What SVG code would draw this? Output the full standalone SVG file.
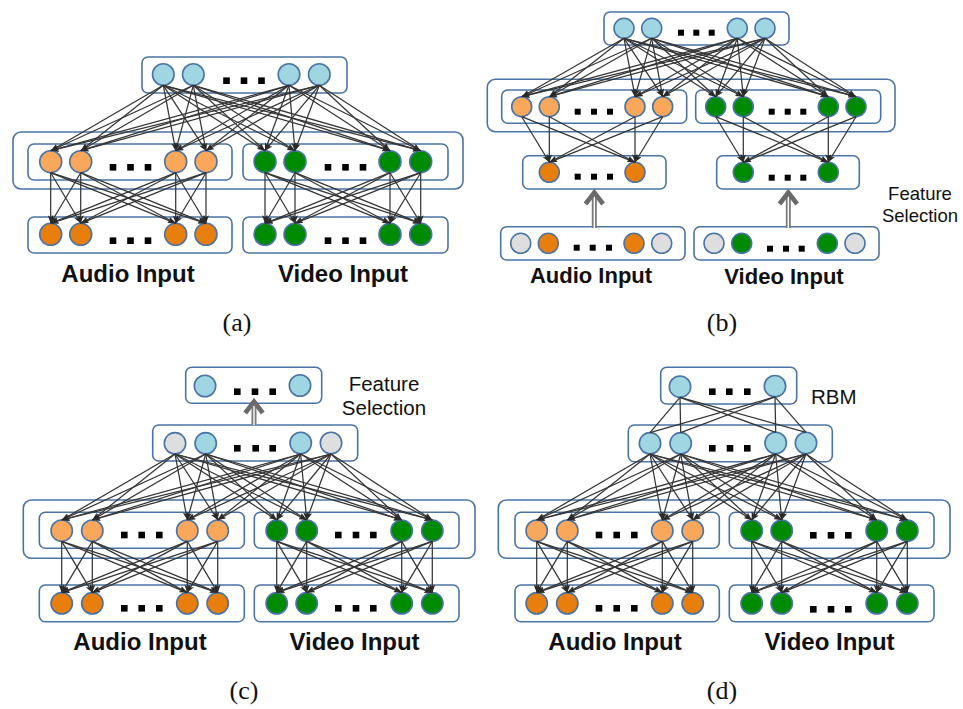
<svg xmlns="http://www.w3.org/2000/svg" width="963" height="709" viewBox="0 0 963 709">
  <style>
    .box { fill: none; stroke: #4a74a5; stroke-width: 1.6; }
    circle { stroke: #4a74a5; stroke-width: 1.6; }
    .lb { fill: #a0d5e2; }
    .lo { fill: #f9a75a; }
    .do { fill: #e87e0b; }
    .g { fill: #008a00; }
    .gy { fill: #dedede; }
    .sq { fill: #000; }
    .e { stroke: #353535; stroke-width: 1.25; marker-end: url(#tip); }
    .u { stroke: #353535; stroke-width: 1.25; }
    .lbl { font-family: "Liberation Sans", Arial, sans-serif; font-weight: bold; fill: #111; text-anchor: middle; }
    .note { font-family: "Liberation Sans", Arial, sans-serif; fill: #111; text-anchor: middle; }
    .cap { font-family: "Liberation Serif", "DejaVu Serif", serif; font-size: 26px; fill: #111; text-anchor: middle; }
    .fs-shaft { stroke: #7a7a7a; stroke-width: 5; }
    .fs-core { stroke: #fff; stroke-width: 1.4; }
    .fs-head { fill: none; stroke: #6a6a6a; stroke-width: 4.6; stroke-linejoin: miter; }
  </style>
  <defs>
    <marker id="tip" viewBox="0 0 8 6" refX="8" refY="3" markerWidth="8" markerHeight="6" markerUnits="userSpaceOnUse" orient="auto">
      <path d="M0,0 L8,3 L0,6 L2,3 z" fill="#2a2a2a"/>
    </marker>
  </defs>
  <rect width="963" height="709" fill="#fff"/>

  <!-- ===================== (a) ===================== -->
  <g id="a-top">
    <rect class="box" x="142" y="57" width="205" height="36" rx="6"/>
    <circle class="lb" cx="163.3" cy="74.5" r="10.8"/>
    <circle class="lb" cx="193.3" cy="74.5" r="10.8"/>
    <circle class="lb" cx="289" cy="74.5" r="10.8"/>
    <circle class="lb" cx="319.3" cy="74.5" r="10.8"/>
    <rect class="sq" x="223.2" y="77.4" width="6.6" height="6.6"/>
    <rect class="sq" x="240.7" y="77.4" width="6.6" height="6.6"/>
    <rect class="sq" x="258.2" y="77.4" width="6.6" height="6.6"/>
  </g>
  <g id="a-shared">
    <rect class="box" x="13" y="132" width="450" height="57" rx="8"/>
  </g>
  <g id="a-audio-hidden">
    <rect class="box" x="28" y="144" width="204" height="36" rx="6"/>
    <circle class="lo" cx="50.7" cy="161.7" r="11"/>
    <circle class="lo" cx="80.7" cy="161.7" r="11"/>
    <circle class="lo" cx="175.7" cy="161.7" r="11"/>
    <circle class="lo" cx="206" cy="161.7" r="11"/>
    <rect class="sq" x="109.7" y="164" width="6.6" height="6.6"/>
    <rect class="sq" x="127.2" y="164" width="6.6" height="6.6"/>
    <rect class="sq" x="144.7" y="164" width="6.6" height="6.6"/>
  </g>
  <g id="a-video-hidden">
    <rect class="box" x="243" y="144" width="205" height="36" rx="6"/>
    <circle class="g" cx="265" cy="161.7" r="11"/>
    <circle class="g" cx="295" cy="161.7" r="11"/>
    <circle class="g" cx="390" cy="161.7" r="11"/>
    <circle class="g" cx="420.7" cy="161.7" r="11"/>
    <rect class="sq" x="324.7" y="164" width="6.6" height="6.6"/>
    <rect class="sq" x="342.2" y="164" width="6.6" height="6.6"/>
    <rect class="sq" x="359.7" y="164" width="6.6" height="6.6"/>
  </g>
  <g id="a-audio-input">
    <rect class="box" x="28" y="217" width="204" height="36" rx="6"/>
    <circle class="do" cx="50.7" cy="234.3" r="11"/>
    <circle class="do" cx="80.7" cy="234.3" r="11"/>
    <circle class="do" cx="175.7" cy="234.3" r="11"/>
    <circle class="do" cx="206" cy="234.3" r="11"/>
    <rect class="sq" x="109.7" y="237.4" width="6.6" height="6.6"/>
    <rect class="sq" x="127.2" y="237.4" width="6.6" height="6.6"/>
    <rect class="sq" x="144.7" y="237.4" width="6.6" height="6.6"/>
    <text class="lbl" x="128" y="282" font-size="24">Audio Input</text>
  </g>
  <g id="a-video-input">
    <rect class="box" x="243" y="217" width="205" height="36" rx="6"/>
    <circle class="g" cx="265" cy="234.3" r="11"/>
    <circle class="g" cx="295" cy="234.3" r="11"/>
    <circle class="g" cx="390" cy="234.3" r="11"/>
    <circle class="g" cx="420.7" cy="234.3" r="11"/>
    <rect class="sq" x="324.7" y="237.4" width="6.6" height="6.6"/>
    <rect class="sq" x="342.2" y="237.4" width="6.6" height="6.6"/>
    <rect class="sq" x="359.7" y="237.4" width="6.6" height="6.6"/>
    <text class="lbl" x="343" y="282" font-size="24">Video Input</text>
  </g>
  <text class="cap" x="237" y="331">(a)</text>

  <g id="a-connectors">
    <!-- shared layer to modality layers -->
    <line class="e" x1="163.3" y1="85.3" x2="50.7" y2="150.7"/>
    <line class="e" x1="163.3" y1="85.3" x2="80.7" y2="150.7"/>
    <line class="e" x1="163.3" y1="85.3" x2="175.7" y2="150.7"/>
    <line class="e" x1="163.3" y1="85.3" x2="206" y2="150.7"/>
    <line class="e" x1="163.3" y1="85.3" x2="265" y2="150.7"/>
    <line class="e" x1="163.3" y1="85.3" x2="295" y2="150.7"/>
    <line class="e" x1="163.3" y1="85.3" x2="390" y2="150.7"/>
    <line class="e" x1="163.3" y1="85.3" x2="420.7" y2="150.7"/>
    <line class="e" x1="193.3" y1="85.3" x2="50.7" y2="150.7"/>
    <line class="e" x1="193.3" y1="85.3" x2="80.7" y2="150.7"/>
    <line class="e" x1="193.3" y1="85.3" x2="175.7" y2="150.7"/>
    <line class="e" x1="193.3" y1="85.3" x2="206" y2="150.7"/>
    <line class="e" x1="193.3" y1="85.3" x2="265" y2="150.7"/>
    <line class="e" x1="193.3" y1="85.3" x2="295" y2="150.7"/>
    <line class="e" x1="193.3" y1="85.3" x2="390" y2="150.7"/>
    <line class="e" x1="193.3" y1="85.3" x2="420.7" y2="150.7"/>
    <line class="e" x1="289" y1="85.3" x2="50.7" y2="150.7"/>
    <line class="e" x1="289" y1="85.3" x2="80.7" y2="150.7"/>
    <line class="e" x1="289" y1="85.3" x2="175.7" y2="150.7"/>
    <line class="e" x1="289" y1="85.3" x2="206" y2="150.7"/>
    <line class="e" x1="289" y1="85.3" x2="265" y2="150.7"/>
    <line class="e" x1="289" y1="85.3" x2="295" y2="150.7"/>
    <line class="e" x1="289" y1="85.3" x2="390" y2="150.7"/>
    <line class="e" x1="289" y1="85.3" x2="420.7" y2="150.7"/>
    <line class="e" x1="319.3" y1="85.3" x2="50.7" y2="150.7"/>
    <line class="e" x1="319.3" y1="85.3" x2="80.7" y2="150.7"/>
    <line class="e" x1="319.3" y1="85.3" x2="175.7" y2="150.7"/>
    <line class="e" x1="319.3" y1="85.3" x2="206" y2="150.7"/>
    <line class="e" x1="319.3" y1="85.3" x2="265" y2="150.7"/>
    <line class="e" x1="319.3" y1="85.3" x2="295" y2="150.7"/>
    <line class="e" x1="319.3" y1="85.3" x2="390" y2="150.7"/>
    <line class="e" x1="319.3" y1="85.3" x2="420.7" y2="150.7"/>
    <!-- audio hidden to audio input -->
    <line class="e" x1="50.7" y1="172.7" x2="50.7" y2="223.3"/>
    <line class="e" x1="50.7" y1="172.7" x2="80.7" y2="223.3"/>
    <line class="e" x1="50.7" y1="172.7" x2="175.7" y2="223.3"/>
    <line class="e" x1="50.7" y1="172.7" x2="206" y2="223.3"/>
    <line class="e" x1="80.7" y1="172.7" x2="50.7" y2="223.3"/>
    <line class="e" x1="80.7" y1="172.7" x2="80.7" y2="223.3"/>
    <line class="e" x1="80.7" y1="172.7" x2="175.7" y2="223.3"/>
    <line class="e" x1="80.7" y1="172.7" x2="206" y2="223.3"/>
    <line class="e" x1="175.7" y1="172.7" x2="50.7" y2="223.3"/>
    <line class="e" x1="175.7" y1="172.7" x2="80.7" y2="223.3"/>
    <line class="e" x1="175.7" y1="172.7" x2="175.7" y2="223.3"/>
    <line class="e" x1="175.7" y1="172.7" x2="206" y2="223.3"/>
    <line class="e" x1="206" y1="172.7" x2="50.7" y2="223.3"/>
    <line class="e" x1="206" y1="172.7" x2="80.7" y2="223.3"/>
    <line class="e" x1="206" y1="172.7" x2="175.7" y2="223.3"/>
    <line class="e" x1="206" y1="172.7" x2="206" y2="223.3"/>
    <!-- video hidden to video input -->
    <line class="e" x1="265" y1="172.7" x2="265" y2="223.3"/>
    <line class="e" x1="265" y1="172.7" x2="295" y2="223.3"/>
    <line class="e" x1="265" y1="172.7" x2="390" y2="223.3"/>
    <line class="e" x1="265" y1="172.7" x2="420.7" y2="223.3"/>
    <line class="e" x1="295" y1="172.7" x2="265" y2="223.3"/>
    <line class="e" x1="295" y1="172.7" x2="295" y2="223.3"/>
    <line class="e" x1="295" y1="172.7" x2="390" y2="223.3"/>
    <line class="e" x1="295" y1="172.7" x2="420.7" y2="223.3"/>
    <line class="e" x1="390" y1="172.7" x2="265" y2="223.3"/>
    <line class="e" x1="390" y1="172.7" x2="295" y2="223.3"/>
    <line class="e" x1="390" y1="172.7" x2="390" y2="223.3"/>
    <line class="e" x1="390" y1="172.7" x2="420.7" y2="223.3"/>
    <line class="e" x1="420.7" y1="172.7" x2="265" y2="223.3"/>
    <line class="e" x1="420.7" y1="172.7" x2="295" y2="223.3"/>
    <line class="e" x1="420.7" y1="172.7" x2="390" y2="223.3"/>
    <line class="e" x1="420.7" y1="172.7" x2="420.7" y2="223.3"/>
  </g>

  <!-- ===================== (b) ===================== -->
  <g id="b-top">
    <rect class="box" x="604" y="12" width="185" height="33" rx="6"/>
    <circle class="lb" cx="624" cy="28.3" r="10"/>
    <circle class="lb" cx="651.7" cy="28.3" r="10"/>
    <circle class="lb" cx="737.3" cy="28.3" r="10"/>
    <circle class="lb" cx="765" cy="28.3" r="10"/>
    <rect class="sq" x="678" y="29.7" width="6" height="6"/>
    <rect class="sq" x="693.3" y="29.7" width="6" height="6"/>
    <rect class="sq" x="708.7" y="29.7" width="6" height="6"/>
  </g>
  <g id="b-shared">
    <rect class="box" x="487.3" y="79.3" width="407.7" height="52.4" rx="8"/>
  </g>
  <g id="b-audio-hidden">
    <rect class="box" x="501.7" y="90" width="185" height="33.3" rx="6"/>
    <circle class="lo" cx="521.7" cy="106.7" r="10"/>
    <circle class="lo" cx="549.3" cy="106.7" r="10"/>
    <circle class="lo" cx="635" cy="106.7" r="10"/>
    <circle class="lo" cx="662.7" cy="106.7" r="10"/>
    <rect class="sq" x="574.7" y="108.7" width="6" height="6"/>
    <rect class="sq" x="591" y="108.7" width="6" height="6"/>
    <rect class="sq" x="607" y="108.7" width="6" height="6"/>
  </g>
  <g id="b-video-hidden">
    <rect class="box" x="695.7" y="90" width="185" height="33.3" rx="6"/>
    <circle class="g" cx="715.7" cy="106.7" r="10"/>
    <circle class="g" cx="743.3" cy="106.7" r="10"/>
    <circle class="g" cx="828.3" cy="106.7" r="10"/>
    <circle class="g" cx="856" cy="106.7" r="10"/>
    <rect class="sq" x="768.7" y="108.7" width="6" height="6"/>
    <rect class="sq" x="784.7" y="108.7" width="6" height="6"/>
    <rect class="sq" x="800.3" y="108.7" width="6" height="6"/>
  </g>
  <g id="b-audio-selected">
    <rect class="box" x="522.7" y="155.7" width="143.3" height="33.3" rx="6"/>
    <circle class="do" cx="549.3" cy="172.3" r="10"/>
    <circle class="do" cx="635" cy="172.3" r="10"/>
    <rect class="sq" x="574.7" y="173.7" width="6" height="6"/>
    <rect class="sq" x="591" y="173.7" width="6" height="6"/>
    <rect class="sq" x="607" y="173.7" width="6" height="6"/>
  </g>
  <g id="b-video-selected">
    <rect class="box" x="716.7" y="155.7" width="142.6" height="33.3" rx="6"/>
    <circle class="g" cx="743.3" cy="172.3" r="10"/>
    <circle class="g" cx="828.3" cy="172.3" r="10"/>
    <rect class="sq" x="768.7" y="174.7" width="6" height="6"/>
    <rect class="sq" x="784.7" y="174.7" width="6" height="6"/>
    <rect class="sq" x="800.3" y="174.7" width="6" height="6"/>
  </g>
  <g id="b-audio-input">
    <rect class="box" x="500.7" y="226.7" width="184.3" height="33.3" rx="6"/>
    <circle class="gy" cx="520.7" cy="243.3" r="10"/>
    <circle class="do" cx="548.3" cy="243.3" r="10"/>
    <circle class="do" cx="634" cy="243.3" r="10"/>
    <circle class="gy" cx="661.7" cy="243.3" r="10"/>
    <rect class="sq" x="573.7" y="244.7" width="6" height="6"/>
    <rect class="sq" x="589.7" y="244.7" width="6" height="6"/>
    <rect class="sq" x="606" y="244.7" width="6" height="6"/>
    <text class="lbl" x="591" y="283" font-size="22">Audio Input</text>
  </g>
  <g id="b-video-input">
    <rect class="box" x="694" y="226.7" width="185" height="33.3" rx="6"/>
    <circle class="gy" cx="714" cy="243.3" r="10"/>
    <circle class="g" cx="741.7" cy="243.3" r="10"/>
    <circle class="g" cx="827.3" cy="243.3" r="10"/>
    <circle class="gy" cx="855" cy="243.3" r="10"/>
    <rect class="sq" x="767" y="245.7" width="6" height="6"/>
    <rect class="sq" x="783" y="245.7" width="6" height="6"/>
    <rect class="sq" x="798.7" y="245.7" width="6" height="6"/>
    <text class="lbl" x="784" y="284" font-size="22">Video Input</text>
  </g>
  <text class="note" x="920" y="200" font-size="18.5">Feature</text>
  <text class="note" x="920" y="222" font-size="18.5">Selection</text>
  <text class="cap" x="722" y="331">(b)</text>

  <g id="b-connectors">
    <line class="e" x1="624" y1="38.3" x2="521.7" y2="96.7"/>
    <line class="e" x1="624" y1="38.3" x2="549.3" y2="96.7"/>
    <line class="e" x1="624" y1="38.3" x2="635" y2="96.7"/>
    <line class="e" x1="624" y1="38.3" x2="662.7" y2="96.7"/>
    <line class="e" x1="624" y1="38.3" x2="715.7" y2="96.7"/>
    <line class="e" x1="624" y1="38.3" x2="743.3" y2="96.7"/>
    <line class="e" x1="624" y1="38.3" x2="828.3" y2="96.7"/>
    <line class="e" x1="624" y1="38.3" x2="856" y2="96.7"/>
    <line class="e" x1="651.7" y1="38.3" x2="521.7" y2="96.7"/>
    <line class="e" x1="651.7" y1="38.3" x2="549.3" y2="96.7"/>
    <line class="e" x1="651.7" y1="38.3" x2="635" y2="96.7"/>
    <line class="e" x1="651.7" y1="38.3" x2="662.7" y2="96.7"/>
    <line class="e" x1="651.7" y1="38.3" x2="715.7" y2="96.7"/>
    <line class="e" x1="651.7" y1="38.3" x2="743.3" y2="96.7"/>
    <line class="e" x1="651.7" y1="38.3" x2="828.3" y2="96.7"/>
    <line class="e" x1="651.7" y1="38.3" x2="856" y2="96.7"/>
    <line class="e" x1="737.3" y1="38.3" x2="521.7" y2="96.7"/>
    <line class="e" x1="737.3" y1="38.3" x2="549.3" y2="96.7"/>
    <line class="e" x1="737.3" y1="38.3" x2="635" y2="96.7"/>
    <line class="e" x1="737.3" y1="38.3" x2="662.7" y2="96.7"/>
    <line class="e" x1="737.3" y1="38.3" x2="715.7" y2="96.7"/>
    <line class="e" x1="737.3" y1="38.3" x2="743.3" y2="96.7"/>
    <line class="e" x1="737.3" y1="38.3" x2="828.3" y2="96.7"/>
    <line class="e" x1="737.3" y1="38.3" x2="856" y2="96.7"/>
    <line class="e" x1="765" y1="38.3" x2="521.7" y2="96.7"/>
    <line class="e" x1="765" y1="38.3" x2="549.3" y2="96.7"/>
    <line class="e" x1="765" y1="38.3" x2="635" y2="96.7"/>
    <line class="e" x1="765" y1="38.3" x2="662.7" y2="96.7"/>
    <line class="e" x1="765" y1="38.3" x2="715.7" y2="96.7"/>
    <line class="e" x1="765" y1="38.3" x2="743.3" y2="96.7"/>
    <line class="e" x1="765" y1="38.3" x2="828.3" y2="96.7"/>
    <line class="e" x1="765" y1="38.3" x2="856" y2="96.7"/>
    <!-- hidden to selected -->
    <line class="e" x1="521.7" y1="116.7" x2="549.3" y2="162.3"/>
    <line class="e" x1="521.7" y1="116.7" x2="635" y2="162.3"/>
    <line class="e" x1="549.3" y1="116.7" x2="549.3" y2="162.3"/>
    <line class="e" x1="549.3" y1="116.7" x2="635" y2="162.3"/>
    <line class="e" x1="635" y1="116.7" x2="549.3" y2="162.3"/>
    <line class="e" x1="635" y1="116.7" x2="635" y2="162.3"/>
    <line class="e" x1="662.7" y1="116.7" x2="549.3" y2="162.3"/>
    <line class="e" x1="662.7" y1="116.7" x2="635" y2="162.3"/>
    <line class="e" x1="715.7" y1="116.7" x2="743.3" y2="162.3"/>
    <line class="e" x1="715.7" y1="116.7" x2="828.3" y2="162.3"/>
    <line class="e" x1="743.3" y1="116.7" x2="743.3" y2="162.3"/>
    <line class="e" x1="743.3" y1="116.7" x2="828.3" y2="162.3"/>
    <line class="e" x1="828.3" y1="116.7" x2="743.3" y2="162.3"/>
    <line class="e" x1="828.3" y1="116.7" x2="828.3" y2="162.3"/>
    <line class="e" x1="856" y1="116.7" x2="743.3" y2="162.3"/>
    <line class="e" x1="856" y1="116.7" x2="828.3" y2="162.3"/>
    <!-- feature selection arrows -->
    <line class="fs-shaft" x1="594.3" y1="228" x2="594.3" y2="196"/>
    <line class="fs-core" x1="594.3" y1="228" x2="594.3" y2="196"/>
    <polyline class="fs-head" points="585.5,204 594.3,192.5 603.1,204"/>
    <line class="fs-shaft" x1="788.3" y1="228" x2="788.3" y2="196"/>
    <line class="fs-core" x1="788.3" y1="228" x2="788.3" y2="196"/>
    <polyline class="fs-head" points="779.5,204 788.3,192.5 797.1,204"/>
  </g>

  <!-- ===================== (c) ===================== -->
  <g id="c-top">
    <rect class="box" x="185.7" y="367.3" width="136" height="36" rx="6"/>
    <circle class="lb" cx="205" cy="386" r="10.7"/>
    <circle class="lb" cx="300" cy="385.5" r="10.7"/>
    <rect class="sq" x="234" y="388.4" width="6.6" height="6.6"/>
    <rect class="sq" x="251.7" y="388.4" width="6.6" height="6.6"/>
    <rect class="sq" x="269.4" y="388.4" width="6.6" height="6.6"/>
  </g>
  <g id="c-shared">
    <rect class="box" x="152.7" y="425" width="205" height="36" rx="6"/>
    <circle class="gy" cx="175" cy="443.3" r="10.7"/>
    <circle class="lb" cx="205.7" cy="443.3" r="10.7"/>
    <circle class="lb" cx="300.7" cy="443" r="10.7"/>
    <circle class="gy" cx="331" cy="443" r="10.7"/>
    <rect class="sq" x="234" y="445" width="6.6" height="6.6"/>
    <rect class="sq" x="252.4" y="445" width="6.6" height="6.6"/>
    <rect class="sq" x="269.4" y="445" width="6.6" height="6.6"/>
  </g>
  <g id="c-hidden-frame">
    <rect class="box" x="23.3" y="500" width="451.7" height="58.3" rx="8"/>
  </g>
  <g id="c-audio-hidden">
    <rect class="box" x="39.3" y="512.3" width="205" height="36" rx="6"/>
    <circle class="lo" cx="61.7" cy="530.7" r="10.7"/>
    <circle class="lo" cx="92.3" cy="530.7" r="10.7"/>
    <circle class="lo" cx="187.3" cy="530.7" r="10.7"/>
    <circle class="lo" cx="217.7" cy="530.7" r="10.7"/>
    <rect class="sq" x="121" y="531.7" width="6.6" height="6.6"/>
    <rect class="sq" x="138.4" y="531.7" width="6.6" height="6.6"/>
    <rect class="sq" x="156" y="531.7" width="6.6" height="6.6"/>
  </g>
  <g id="c-video-hidden">
    <rect class="box" x="254.3" y="512.3" width="204.7" height="36" rx="6"/>
    <circle class="g" cx="276.7" cy="530.7" r="10.7"/>
    <circle class="g" cx="306.7" cy="530.7" r="10.7"/>
    <circle class="g" cx="401.7" cy="530.7" r="10.7"/>
    <circle class="g" cx="432.3" cy="530.7" r="10.7"/>
    <rect class="sq" x="335" y="531.7" width="6.6" height="6.6"/>
    <rect class="sq" x="352.7" y="531.7" width="6.6" height="6.6"/>
    <rect class="sq" x="370" y="531.7" width="6.6" height="6.6"/>
  </g>
  <g id="c-audio-input">
    <rect class="box" x="39.3" y="585" width="205" height="36.7" rx="6"/>
    <circle class="do" cx="61.7" cy="603.3" r="10.7"/>
    <circle class="do" cx="92.3" cy="603.3" r="10.7"/>
    <circle class="do" cx="187.3" cy="603.3" r="10.7"/>
    <circle class="do" cx="217.7" cy="603.3" r="10.7"/>
    <rect class="sq" x="121" y="605" width="6.6" height="6.6"/>
    <rect class="sq" x="138.4" y="605" width="6.6" height="6.6"/>
    <rect class="sq" x="156" y="605" width="6.6" height="6.6"/>
    <text class="lbl" x="140" y="650" font-size="24">Audio Input</text>
  </g>
  <g id="c-video-input">
    <rect class="box" x="254.3" y="585" width="204.7" height="36.7" rx="6"/>
    <circle class="g" cx="276.7" cy="603.3" r="10.7"/>
    <circle class="g" cx="306.7" cy="603.3" r="10.7"/>
    <circle class="g" cx="401.7" cy="603.3" r="10.7"/>
    <circle class="g" cx="432.3" cy="603.3" r="10.7"/>
    <rect class="sq" x="335" y="605" width="6.6" height="6.6"/>
    <rect class="sq" x="352.7" y="605" width="6.6" height="6.6"/>
    <rect class="sq" x="370" y="605" width="6.6" height="6.6"/>
    <text class="lbl" x="354.5" y="650" font-size="24">Video Input</text>
  </g>
  <text class="note" x="384" y="391" font-size="20.5">Feature</text>
  <text class="note" x="384" y="415" font-size="20.5">Selection</text>
  <text class="cap" x="244" y="699">(c)</text>

  <g id="c-connectors">
    <line class="fs-shaft" x1="254" y1="425" x2="254" y2="404"/>
    <line class="fs-core" x1="254" y1="425" x2="254" y2="404"/>
    <polyline class="fs-head" points="245.2,413 254,401.5 262.8,413"/>
    <!-- shared layer to modality layers -->
    <line class="e" x1="175" y1="454" x2="61.7" y2="520"/>
    <line class="e" x1="175" y1="454" x2="92.3" y2="520"/>
    <line class="e" x1="175" y1="454" x2="187.3" y2="520"/>
    <line class="e" x1="175" y1="454" x2="217.7" y2="520"/>
    <line class="e" x1="175" y1="454" x2="276.7" y2="520"/>
    <line class="e" x1="175" y1="454" x2="306.7" y2="520"/>
    <line class="e" x1="175" y1="454" x2="401.7" y2="520"/>
    <line class="e" x1="175" y1="454" x2="432.3" y2="520"/>
    <line class="e" x1="205.7" y1="454" x2="61.7" y2="520"/>
    <line class="e" x1="205.7" y1="454" x2="92.3" y2="520"/>
    <line class="e" x1="205.7" y1="454" x2="187.3" y2="520"/>
    <line class="e" x1="205.7" y1="454" x2="217.7" y2="520"/>
    <line class="e" x1="205.7" y1="454" x2="276.7" y2="520"/>
    <line class="e" x1="205.7" y1="454" x2="306.7" y2="520"/>
    <line class="e" x1="205.7" y1="454" x2="401.7" y2="520"/>
    <line class="e" x1="205.7" y1="454" x2="432.3" y2="520"/>
    <line class="e" x1="300.7" y1="454" x2="61.7" y2="520"/>
    <line class="e" x1="300.7" y1="454" x2="92.3" y2="520"/>
    <line class="e" x1="300.7" y1="454" x2="187.3" y2="520"/>
    <line class="e" x1="300.7" y1="454" x2="217.7" y2="520"/>
    <line class="e" x1="300.7" y1="454" x2="276.7" y2="520"/>
    <line class="e" x1="300.7" y1="454" x2="306.7" y2="520"/>
    <line class="e" x1="300.7" y1="454" x2="401.7" y2="520"/>
    <line class="e" x1="300.7" y1="454" x2="432.3" y2="520"/>
    <line class="e" x1="331" y1="454" x2="61.7" y2="520"/>
    <line class="e" x1="331" y1="454" x2="92.3" y2="520"/>
    <line class="e" x1="331" y1="454" x2="187.3" y2="520"/>
    <line class="e" x1="331" y1="454" x2="217.7" y2="520"/>
    <line class="e" x1="331" y1="454" x2="276.7" y2="520"/>
    <line class="e" x1="331" y1="454" x2="306.7" y2="520"/>
    <line class="e" x1="331" y1="454" x2="401.7" y2="520"/>
    <line class="e" x1="331" y1="454" x2="432.3" y2="520"/>
    <!-- audio hidden to audio input -->
    <line class="e" x1="61.7" y1="541.4" x2="61.7" y2="592.6"/>
    <line class="e" x1="61.7" y1="541.4" x2="92.3" y2="592.6"/>
    <line class="e" x1="61.7" y1="541.4" x2="187.3" y2="592.6"/>
    <line class="e" x1="61.7" y1="541.4" x2="217.7" y2="592.6"/>
    <line class="e" x1="92.3" y1="541.4" x2="61.7" y2="592.6"/>
    <line class="e" x1="92.3" y1="541.4" x2="92.3" y2="592.6"/>
    <line class="e" x1="92.3" y1="541.4" x2="187.3" y2="592.6"/>
    <line class="e" x1="92.3" y1="541.4" x2="217.7" y2="592.6"/>
    <line class="e" x1="187.3" y1="541.4" x2="61.7" y2="592.6"/>
    <line class="e" x1="187.3" y1="541.4" x2="92.3" y2="592.6"/>
    <line class="e" x1="187.3" y1="541.4" x2="187.3" y2="592.6"/>
    <line class="e" x1="187.3" y1="541.4" x2="217.7" y2="592.6"/>
    <line class="e" x1="217.7" y1="541.4" x2="61.7" y2="592.6"/>
    <line class="e" x1="217.7" y1="541.4" x2="92.3" y2="592.6"/>
    <line class="e" x1="217.7" y1="541.4" x2="187.3" y2="592.6"/>
    <line class="e" x1="217.7" y1="541.4" x2="217.7" y2="592.6"/>
    <!-- video hidden to video input -->
    <line class="e" x1="276.7" y1="541.4" x2="276.7" y2="592.6"/>
    <line class="e" x1="276.7" y1="541.4" x2="306.7" y2="592.6"/>
    <line class="e" x1="276.7" y1="541.4" x2="401.7" y2="592.6"/>
    <line class="e" x1="276.7" y1="541.4" x2="432.3" y2="592.6"/>
    <line class="e" x1="306.7" y1="541.4" x2="276.7" y2="592.6"/>
    <line class="e" x1="306.7" y1="541.4" x2="306.7" y2="592.6"/>
    <line class="e" x1="306.7" y1="541.4" x2="401.7" y2="592.6"/>
    <line class="e" x1="306.7" y1="541.4" x2="432.3" y2="592.6"/>
    <line class="e" x1="401.7" y1="541.4" x2="276.7" y2="592.6"/>
    <line class="e" x1="401.7" y1="541.4" x2="306.7" y2="592.6"/>
    <line class="e" x1="401.7" y1="541.4" x2="401.7" y2="592.6"/>
    <line class="e" x1="401.7" y1="541.4" x2="432.3" y2="592.6"/>
    <line class="e" x1="432.3" y1="541.4" x2="276.7" y2="592.6"/>
    <line class="e" x1="432.3" y1="541.4" x2="306.7" y2="592.6"/>
    <line class="e" x1="432.3" y1="541.4" x2="401.7" y2="592.6"/>
    <line class="e" x1="432.3" y1="541.4" x2="432.3" y2="592.6"/>
  </g>

  <!-- ===================== (d) ===================== -->
  <g id="d-top">
    <rect class="box" x="660.7" y="367.3" width="136" height="36.7" rx="6"/>
    <circle class="lb" cx="680" cy="386.7" r="10.7"/>
    <circle class="lb" cx="775" cy="386.2" r="10.7"/>
    <rect class="sq" x="709" y="388.4" width="6.6" height="6.6"/>
    <rect class="sq" x="726" y="388.4" width="6.6" height="6.6"/>
    <rect class="sq" x="744" y="388.4" width="6.6" height="6.6"/>
  </g>
  <g id="d-shared">
    <rect class="box" x="628.3" y="425" width="204" height="36.7" rx="6"/>
    <circle class="lb" cx="650" cy="443.3" r="10.7"/>
    <circle class="lb" cx="680.7" cy="443.3" r="10.7"/>
    <circle class="lb" cx="775.7" cy="443" r="10.7"/>
    <circle class="lb" cx="806" cy="443" r="10.7"/>
    <rect class="sq" x="709" y="445" width="6.6" height="6.6"/>
    <rect class="sq" x="726.7" y="445" width="6.6" height="6.6"/>
    <rect class="sq" x="744" y="445" width="6.6" height="6.6"/>
  </g>
  <g id="d-hidden-frame">
    <rect class="box" x="498.3" y="500" width="451.7" height="58.3" rx="8"/>
  </g>
  <g id="d-audio-hidden">
    <rect class="box" x="515" y="512.3" width="204.3" height="36" rx="6"/>
    <circle class="lo" cx="536.7" cy="530.7" r="10.7"/>
    <circle class="lo" cx="567.3" cy="530.7" r="10.7"/>
    <circle class="lo" cx="662.3" cy="530.7" r="10.7"/>
    <circle class="lo" cx="692.7" cy="530.7" r="10.7"/>
    <rect class="sq" x="595.7" y="531.7" width="6.6" height="6.6"/>
    <rect class="sq" x="613.4" y="531.7" width="6.6" height="6.6"/>
    <rect class="sq" x="631" y="531.7" width="6.6" height="6.6"/>
  </g>
  <g id="d-video-hidden">
    <rect class="box" x="729.3" y="512.3" width="204.7" height="36" rx="6"/>
    <circle class="g" cx="751.7" cy="530.7" r="10.7"/>
    <circle class="g" cx="781.7" cy="530.7" r="10.7"/>
    <circle class="g" cx="876.7" cy="530.7" r="10.7"/>
    <circle class="g" cx="907.3" cy="530.7" r="10.7"/>
    <rect class="sq" x="810" y="532" width="6.6" height="6.6"/>
    <rect class="sq" x="827.7" y="532" width="6.6" height="6.6"/>
    <rect class="sq" x="845" y="532" width="6.6" height="6.6"/>
  </g>
  <g id="d-audio-input">
    <rect class="box" x="515" y="585" width="204.3" height="36.7" rx="6"/>
    <circle class="do" cx="536.7" cy="603.3" r="10.7"/>
    <circle class="do" cx="567.3" cy="603.3" r="10.7"/>
    <circle class="do" cx="662.3" cy="603.3" r="10.7"/>
    <circle class="do" cx="692.7" cy="603.3" r="10.7"/>
    <rect class="sq" x="595.7" y="605" width="6.6" height="6.6"/>
    <rect class="sq" x="613.4" y="605" width="6.6" height="6.6"/>
    <rect class="sq" x="631" y="605" width="6.6" height="6.6"/>
    <text class="lbl" x="615" y="650" font-size="24">Audio Input</text>
  </g>
  <g id="d-video-input">
    <rect class="box" x="729.3" y="585" width="204.7" height="36.7" rx="6"/>
    <circle class="g" cx="751.7" cy="603.3" r="10.7"/>
    <circle class="g" cx="781.7" cy="603.3" r="10.7"/>
    <circle class="g" cx="876.7" cy="603.3" r="10.7"/>
    <circle class="g" cx="907.3" cy="603.3" r="10.7"/>
    <rect class="sq" x="810" y="606" width="6.6" height="6.6"/>
    <rect class="sq" x="827.7" y="606" width="6.6" height="6.6"/>
    <rect class="sq" x="845" y="606" width="6.6" height="6.6"/>
    <text class="lbl" x="829.5" y="650" font-size="24">Video Input</text>
  </g>
  <text class="note" x="811" y="404" font-size="20.5" style="text-anchor:start">RBM</text>
  <text class="cap" x="722" y="699">(d)</text>

  <g id="d-connectors">
    <!-- undirected RBM links -->
    <line class="u" x1="680" y1="397.4" x2="650" y2="432.6"/>
    <line class="u" x1="680" y1="397.4" x2="680.7" y2="432.6"/>
    <line class="u" x1="680" y1="397.4" x2="775.7" y2="432.3"/>
    <line class="u" x1="680" y1="397.4" x2="806" y2="432.3"/>
    <line class="u" x1="775" y1="396.9" x2="650" y2="432.6"/>
    <line class="u" x1="775" y1="396.9" x2="680.7" y2="432.6"/>
    <line class="u" x1="775" y1="396.9" x2="775.7" y2="432.3"/>
    <line class="u" x1="775" y1="396.9" x2="806" y2="432.3"/>
    <!-- shared layer to modality layers -->
    <line class="e" x1="650" y1="454" x2="536.7" y2="520"/>
    <line class="e" x1="650" y1="454" x2="567.3" y2="520"/>
    <line class="e" x1="650" y1="454" x2="662.3" y2="520"/>
    <line class="e" x1="650" y1="454" x2="692.7" y2="520"/>
    <line class="e" x1="650" y1="454" x2="751.7" y2="520"/>
    <line class="e" x1="650" y1="454" x2="781.7" y2="520"/>
    <line class="e" x1="650" y1="454" x2="876.7" y2="520"/>
    <line class="e" x1="650" y1="454" x2="907.3" y2="520"/>
    <line class="e" x1="680.7" y1="454" x2="536.7" y2="520"/>
    <line class="e" x1="680.7" y1="454" x2="567.3" y2="520"/>
    <line class="e" x1="680.7" y1="454" x2="662.3" y2="520"/>
    <line class="e" x1="680.7" y1="454" x2="692.7" y2="520"/>
    <line class="e" x1="680.7" y1="454" x2="751.7" y2="520"/>
    <line class="e" x1="680.7" y1="454" x2="781.7" y2="520"/>
    <line class="e" x1="680.7" y1="454" x2="876.7" y2="520"/>
    <line class="e" x1="680.7" y1="454" x2="907.3" y2="520"/>
    <line class="e" x1="775.7" y1="454" x2="536.7" y2="520"/>
    <line class="e" x1="775.7" y1="454" x2="567.3" y2="520"/>
    <line class="e" x1="775.7" y1="454" x2="662.3" y2="520"/>
    <line class="e" x1="775.7" y1="454" x2="692.7" y2="520"/>
    <line class="e" x1="775.7" y1="454" x2="751.7" y2="520"/>
    <line class="e" x1="775.7" y1="454" x2="781.7" y2="520"/>
    <line class="e" x1="775.7" y1="454" x2="876.7" y2="520"/>
    <line class="e" x1="775.7" y1="454" x2="907.3" y2="520"/>
    <line class="e" x1="806" y1="454" x2="536.7" y2="520"/>
    <line class="e" x1="806" y1="454" x2="567.3" y2="520"/>
    <line class="e" x1="806" y1="454" x2="662.3" y2="520"/>
    <line class="e" x1="806" y1="454" x2="692.7" y2="520"/>
    <line class="e" x1="806" y1="454" x2="751.7" y2="520"/>
    <line class="e" x1="806" y1="454" x2="781.7" y2="520"/>
    <line class="e" x1="806" y1="454" x2="876.7" y2="520"/>
    <line class="e" x1="806" y1="454" x2="907.3" y2="520"/>
    <!-- audio hidden to audio input -->
    <line class="e" x1="536.7" y1="541.4" x2="536.7" y2="592.6"/>
    <line class="e" x1="536.7" y1="541.4" x2="567.3" y2="592.6"/>
    <line class="e" x1="536.7" y1="541.4" x2="662.3" y2="592.6"/>
    <line class="e" x1="536.7" y1="541.4" x2="692.7" y2="592.6"/>
    <line class="e" x1="567.3" y1="541.4" x2="536.7" y2="592.6"/>
    <line class="e" x1="567.3" y1="541.4" x2="567.3" y2="592.6"/>
    <line class="e" x1="567.3" y1="541.4" x2="662.3" y2="592.6"/>
    <line class="e" x1="567.3" y1="541.4" x2="692.7" y2="592.6"/>
    <line class="e" x1="662.3" y1="541.4" x2="536.7" y2="592.6"/>
    <line class="e" x1="662.3" y1="541.4" x2="567.3" y2="592.6"/>
    <line class="e" x1="662.3" y1="541.4" x2="662.3" y2="592.6"/>
    <line class="e" x1="662.3" y1="541.4" x2="692.7" y2="592.6"/>
    <line class="e" x1="692.7" y1="541.4" x2="536.7" y2="592.6"/>
    <line class="e" x1="692.7" y1="541.4" x2="567.3" y2="592.6"/>
    <line class="e" x1="692.7" y1="541.4" x2="662.3" y2="592.6"/>
    <line class="e" x1="692.7" y1="541.4" x2="692.7" y2="592.6"/>
    <!-- video hidden to video input -->
    <line class="e" x1="751.7" y1="541.4" x2="751.7" y2="592.6"/>
    <line class="e" x1="751.7" y1="541.4" x2="781.7" y2="592.6"/>
    <line class="e" x1="751.7" y1="541.4" x2="876.7" y2="592.6"/>
    <line class="e" x1="751.7" y1="541.4" x2="907.3" y2="592.6"/>
    <line class="e" x1="781.7" y1="541.4" x2="751.7" y2="592.6"/>
    <line class="e" x1="781.7" y1="541.4" x2="781.7" y2="592.6"/>
    <line class="e" x1="781.7" y1="541.4" x2="876.7" y2="592.6"/>
    <line class="e" x1="781.7" y1="541.4" x2="907.3" y2="592.6"/>
    <line class="e" x1="876.7" y1="541.4" x2="751.7" y2="592.6"/>
    <line class="e" x1="876.7" y1="541.4" x2="781.7" y2="592.6"/>
    <line class="e" x1="876.7" y1="541.4" x2="876.7" y2="592.6"/>
    <line class="e" x1="876.7" y1="541.4" x2="907.3" y2="592.6"/>
    <line class="e" x1="907.3" y1="541.4" x2="751.7" y2="592.6"/>
    <line class="e" x1="907.3" y1="541.4" x2="781.7" y2="592.6"/>
    <line class="e" x1="907.3" y1="541.4" x2="876.7" y2="592.6"/>
    <line class="e" x1="907.3" y1="541.4" x2="907.3" y2="592.6"/>
  </g>
</svg>
